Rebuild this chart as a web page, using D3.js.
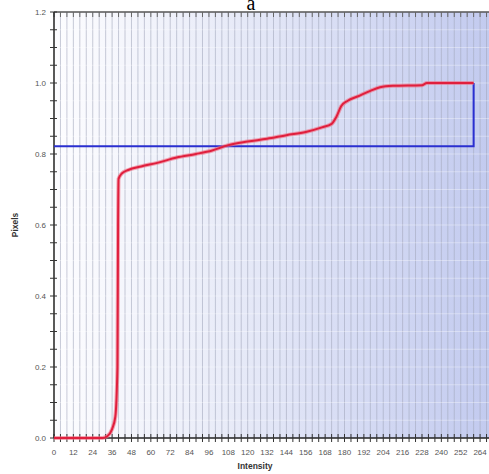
<!DOCTYPE html>
<html>
<head>
<meta charset="utf-8">
<script src="https://cdn.jsdelivr.net/npm/d3@7"></script>
<style>
  body { margin: 0; background: #fff; }
  svg { display: block; }
  .tick-label { font-family: "Liberation Sans", Arial, sans-serif; font-size: 8px; fill: #555; }
  .axis-title { font-family: "Liberation Sans", Arial, sans-serif; font-size: 8.5px; font-weight: bold; fill: #333; }
</style>
</head>
<body>
<div id="chart"></div>
<script>
// cumulative histogram (red) and threshold line (blue)
const intensity = [0, 30, 33, 36, 38, 39.3, 39.7, 40, 42, 46, 54, 64, 76, 88, 98, 108, 120, 132, 144, 156, 166, 172, 175, 178, 182, 188, 196, 202, 210, 228, 231, 260];
const cumulative = [0, 0, 0.005, 0.025, 0.06, 0.2, 0.6, 0.73, 0.745, 0.755, 0.765, 0.775, 0.79, 0.8, 0.81, 0.825, 0.835, 0.843, 0.853, 0.862, 0.875, 0.885, 0.905, 0.935, 0.95, 0.962, 0.978, 0.988, 0.992, 0.994, 1.0, 1.0];
const thresholdX = [0, 260, 260];
const thresholdY = [0.822, 0.822, 1.0];
const xTickValues = d3.range(0, 265, 12);
const yTickValues = [0, 0.2, 0.4, 0.6, 0.8, 1.0, 1.2];

const width = 489, height = 474;
const svg = d3.select('#chart').append('svg')
  .attr('width', width)
  .attr('height', height);

const x = d3.scaleLinear().domain([0, 272]).range([54, 493]);
const y = d3.scaleLinear().domain([0, 1.2]).range([438, 12]);

const defs = svg.append('defs');
const grad = defs.append('linearGradient').attr('id', 'bg')
  .attr('x1', '0%').attr('x2', '100%').attr('y1', '0%').attr('y2', '0%');
grad.append('stop').attr('offset', '0%').attr('stop-color', '#fdfdff');
grad.append('stop').attr('offset', '40%').attr('stop-color', '#e8ebf8');
grad.append('stop').attr('offset', '100%').attr('stop-color', '#c2caef');

svg.append('rect')
  .attr('x', x(0)).attr('y', y(1.2))
  .attr('width', x(272) - x(0)).attr('height', y(0) - y(1.2))
  .attr('fill', 'url(#bg)');

// vertical grid
svg.append('g')
  .selectAll('line')
  .data(d3.range(4, 272, 4))
  .enter().append('line')
  .attr('x1', d => x(d)).attr('x2', d => x(d))
  .attr('y1', y(1.2)).attr('y2', y(0))
  .attr('stroke', '#a4a8bd')
  .attr('stroke-opacity', 0.6)
  .attr('stroke-width', 1);

// faint horizontal grid
svg.append('g')
  .selectAll('line')
  .data(d3.range(0.05, 1.2, 0.05))
  .enter().append('line')
  .attr('x1', x(0)).attr('x2', x(272))
  .attr('y1', d => y(d)).attr('y2', d => y(d))
  .attr('stroke', '#ffffff')
  .attr('stroke-opacity', 0.35);

// x axis, bottom
const xAxis = svg.append('g').attr('transform', `translate(0,${y(0)})`);
xAxis.append('line').attr('x1', x(0)).attr('x2', width).attr('stroke', '#222').attr('stroke-width', 1.5);
xAxis.selectAll('.tk').data(d3.range(0, 272, 4)).enter().append('line')
  .attr('x1', d => x(d)).attr('x2', d => x(d))
  .attr('y1', -4).attr('y2', 4)
  .attr('stroke', '#333');
xAxis.selectAll('text').data(xTickValues).enter().append('text')
  .attr('class', 'tick-label')
  .attr('x', d => x(d)).attr('y', 17)
  .attr('text-anchor', 'middle')
  .text(d => d);

// top border with ticks
const topAxis = svg.append('g').attr('transform', `translate(0,${y(1.2)})`);
topAxis.append('line').attr('x1', x(0)).attr('x2', width).attr('stroke', '#555').attr('stroke-width', 1.5);
topAxis.selectAll('.tk').data(d3.range(0, 272, 4)).enter().append('line')
  .attr('x1', d => x(d)).attr('x2', d => x(d))
  .attr('y1', 0).attr('y2', 5)
  .attr('stroke', '#666');

// y axis
const yAxis = svg.append('g').attr('transform', `translate(${x(0)},0)`);
yAxis.append('line').attr('y1', y(1.2)).attr('y2', y(0)).attr('stroke', '#222').attr('stroke-width', 1.5);
yAxis.selectAll('.tk').data(d3.range(0, 1.21, 0.05)).enter().append('line')
  .attr('y1', d => y(d)).attr('y2', d => y(d))
  .attr('x1', -4).attr('x2', 3)
  .attr('stroke', '#333');
yAxis.selectAll('text').data(yTickValues).enter().append('text')
  .attr('class', 'tick-label')
  .attr('x', -8).attr('y', d => y(d) + 3)
  .attr('text-anchor', 'end')
  .text(d => d.toFixed(1));

// threshold line
const blue = d3.line().x((d, i) => x(thresholdX[i])).y((d, i) => y(thresholdY[i]));
svg.append('path')
  .datum(thresholdX)
  .attr('d', blue)
  .attr('fill', 'none')
  .attr('stroke', '#2a2fd0')
  .attr('stroke-width', 2);

// cumulative curve
const red = d3.line().x((d, i) => x(intensity[i])).y((d, i) => y(cumulative[i])).curve(d3.curveMonotoneX);
svg.append('path')
  .datum(intensity)
  .attr('d', red)
  .attr('fill', 'none')
  .attr('stroke', '#f06a80')
  .attr('stroke-opacity', 0.6)
  .attr('stroke-width', 4);
svg.append('path')
  .datum(intensity)
  .attr('d', red)
  .attr('fill', 'none')
  .attr('stroke', '#e01f3d')
  .attr('stroke-width', 2);

// titles
svg.append('text')
  .attr('x', 251).attr('y', 10)
  .attr('text-anchor', 'middle')
  .style('font-family', '"Liberation Serif", "DejaVu Serif", serif')
  .style('font-size', '20px')
  .text('a');

svg.append('text')
  .attr('class', 'axis-title')
  .attr('transform', `translate(18,${(y(0) + y(1.2)) / 2}) rotate(-90)`)
  .attr('text-anchor', 'middle')
  .text('Pixels');

svg.append('text')
  .attr('class', 'axis-title')
  .attr('x', 255).attr('y', 469)
  .attr('text-anchor', 'middle')
  .text('Intensity');
</script>
</body>
</html>
